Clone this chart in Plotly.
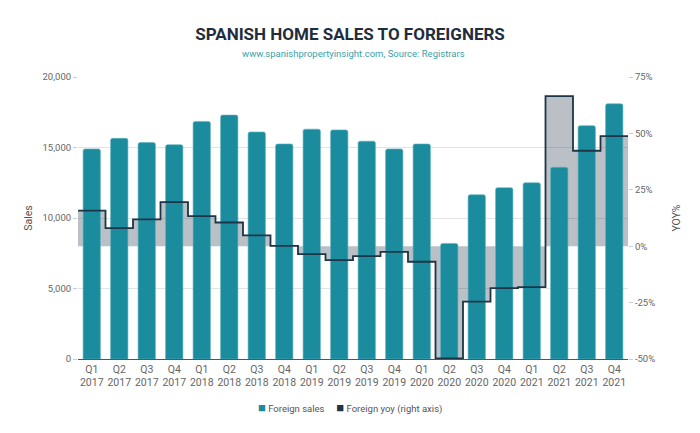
import plotly.graph_objects as go

quarters = ["Q1", "Q2", "Q3", "Q4"] * 5
years = ["2017"] * 4 + ["2018"] * 4 + ["2019"] * 4 + ["2020"] * 4 + ["2021"] * 4
sales = [14900, 15650, 15350, 15200, 16850, 17300, 16100, 15250, 16300, 16250,
         15450, 14900, 15250, 8200, 11650, 12150, 12500, 13600, 16550, 18100]
yoy = [15.8, 8.0, 11.9, 19.5, 13.3, 10.5, 4.8, 0.1, -3.5, -6.2,
       -4.4, -2.5, -6.9, -49.7, -24.6, -18.6, -18.1, 66.5, 42.3, 48.8]
sales_ticks = [0, 5000, 10000, 15000, 20000]
yoy_ticks = [-50, -25, 0, 25, 50, 75]
yoy_ticktext = ["-50%", "-25%", "0%", "25%", "50%", "75%"]
series_names = ["Foreign sales", "Foreign yoy (right axis)"]

n = len(sales)
xpos = list(range(n))
labels = [f"{q}<br>{y}" for q, y in zip(quarters, years)]
step_x = [i - 0.5 for i in xpos] + [n - 0.5]
step_y = yoy + [yoy[-1]]

teal = "#1b8c9d"
navy = "#1d3546"
gray_txt = "#666666"

fig = go.Figure()
# gray fill (behind bars)
fig.add_trace(go.Scatter(x=step_x, y=step_y, mode="lines", line=dict(width=0, shape="hv"),
                         fill="tozeroy", fillcolor="rgba(29,48,66,0.30)",
                         yaxis="y", showlegend=False, hoverinfo="skip"))
# bars
fig.add_trace(go.Bar(x=xpos, y=sales, name=series_names[0], width=0.63, showlegend=False,
                     marker=dict(color=teal, line=dict(color="#5db3bf", width=0.6), cornerradius=2),
                     yaxis="y2"))
# step line
fig.add_trace(go.Scatter(x=step_x, y=step_y, mode="lines", name=series_names[1], showlegend=False,
                         line=dict(color=navy, width=1.8, shape="hv"), yaxis="y3"))

legend_text = (f'<span style="color:{teal};font-size:13px">■</span> {series_names[0]}'
               f'&nbsp;&nbsp;&nbsp;&nbsp;&nbsp;<span style="color:{navy};font-size:13px">■</span> {series_names[1]}')

fig.update_layout(
    width=700, height=433,
    margin=dict(l=78, r=72, t=77, b=74),
    paper_bgcolor="white", plot_bgcolor="white",
    font=dict(family="Roboto", size=10, color=gray_txt),
    showlegend=False,
    title=dict(text="<b>SPANISH HOME SALES TO FOREIGNERS</b>", x=0.5, xanchor="center",
               y=0.922, yanchor="middle", font=dict(family="Roboto", size=17, color="#1f2d3c")),
    annotations=[
        dict(text="www.spanishpropertyinsight.com, Source: Registrars", xref="paper", yref="paper",
             x=0.5, y=1.0, xanchor="center", yanchor="bottom", yshift=16, showarrow=False,
             font=dict(family="Roboto", size=9.5, color="#3a9fac")),
        dict(text=legend_text, xref="paper", yref="paper", x=(350 - 78) / 550, y=0, xanchor="center",
             yanchor="middle", yshift=-48, showarrow=False,
             font=dict(family="Roboto", size=9.5, color="#555555")),
    ],
    xaxis=dict(range=[-0.5, n - 0.5], tickmode="array", tickvals=xpos, ticktext=labels,
               showgrid=False, showline=True, linecolor="#555555", linewidth=1, ticks="",
               tickfont=dict(size=10.5, color=gray_txt), zeroline=False, automargin=False),
    yaxis=dict(range=[-50, 75], visible=False, showgrid=False, zeroline=False),
    yaxis2=dict(range=[0, 20000], overlaying="y", side="left", tickvals=sales_ticks, tickformat=",",
                showgrid=True, gridcolor="#e3e3e3", gridwidth=1, zeroline=False, automargin=False,
                title=dict(text="Sales", font=dict(size=10.5, color="#555555"), standoff=7),
                tickfont=dict(size=9.5, color=gray_txt), ticks="outside", ticklen=4, tickcolor="#cccccc"),
    yaxis3=dict(range=[-50, 75], overlaying="y", side="right", tickmode="array", tickvals=yoy_ticks,
                ticktext=yoy_ticktext, showgrid=False, zeroline=False, automargin=False,
                title=dict(text="YOY%", font=dict(size=10.5, color="#555555"), standoff=18),
                tickfont=dict(size=9.5, color=gray_txt), ticks="outside", ticklen=4, tickcolor="#cccccc"),
    bargap=0.37,
)

fig.write_html("out.html")
